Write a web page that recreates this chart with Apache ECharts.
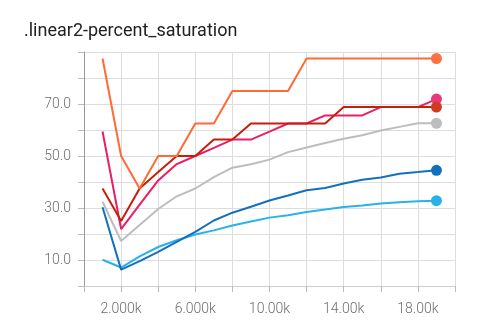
<!DOCTYPE html>
<html>
<head>
<meta charset="utf-8">
<script src="https://cdn.jsdelivr.net/npm/echarts@6/dist/echarts.min.js"></script>
<style>
html,body{margin:0;padding:0;background:#fff;}
#c{width:480px;height:323px;}
</style>
</head>
<body>
<div id="c"></div>
<script>
var titleText = '.linear2-percent_saturation';
var steps = [1000,2000,3000,4000,5000,6000,7000,8000,9000,10000,11000,12000,13000,14000,15000,16000,17000,18000,19000];
var lightBlue = [10.1,7.1,11.4,15.0,17.6,19.8,21.4,23.3,24.8,26.3,27.2,28.5,29.4,30.4,31.0,31.7,32.2,32.6,32.8];
var darkBlue  = [30.3,6.3,9.6,13.1,17.0,20.8,25.2,28.2,30.5,32.9,34.8,36.8,37.7,39.4,40.9,41.7,43.2,43.8,44.5];
var gray      = [32.4,17.3,23.5,29.6,34.5,37.5,41.9,45.5,46.8,48.6,51.5,53.3,55.0,56.6,58.0,59.8,61.2,62.6,62.6];
var pink      = [59.4,21.9,31.3,40.6,46.9,50.0,53.1,56.3,56.3,59.4,62.5,62.5,65.6,65.6,65.6,68.8,68.8,68.8,71.9];
var darkRed   = [37.5,25.0,37.5,43.8,50.0,50.0,56.3,56.3,62.5,62.5,62.5,62.5,62.5,68.8,68.8,68.8,68.8,68.8,68.8];
var orange    = [87.5,50.0,37.5,50.0,50.0,62.5,62.5,75.0,75.0,75.0,75.0,87.5,87.5,87.5,87.5,87.5,87.5,87.5,87.5];
var yLabeled = [10,30,50,70];
var xLabels = {2000:'2.000k',6000:'6.000k',10000:'10.00k',14000:'14.00k',18000:'18.00k'};

function pairs(vals){ return steps.map(function(s,i){ return [s, vals[i]]; }); }
function mk(name, vals, color, markerColor){
  var d = pairs(vals);
  return {
    name: name, type: 'line', data: d, showSymbol: false, symbol: 'circle',
    lineStyle: {color: color, width: 2}, itemStyle: {color: color},
    animation: false,
    markPoint: {
      symbol: 'circle', symbolSize: 11, animation: false,
      itemStyle: {color: markerColor || color},
      label: {show: false},
      data: [{coord: d[d.length-1]}]
    }
  };
}
var chart = echarts.init(document.getElementById('c'), null, {renderer: 'canvas'});
chart.setOption({
  animation: false,
  title: {text: titleText, left: 19, top: 17,
    textStyle: {fontFamily: 'Roboto', fontSize: 18, fontWeight: 'normal', color: '#212121'}},
  grid: {left: 84, right: 25, top: 52, bottom: 37},
  xAxis: {
    type: 'value', min: 0, max: 20000, interval: 2000,
    axisLine: {show: true, lineStyle: {color: '#cccccc', width: 1}},
    axisTick: {show: true, length: 6, lineStyle: {color: '#bbbbbb'}},
    splitLine: {show: true, lineStyle: {color: '#dddddd', width: 1}},
    axisLabel: {fontFamily: 'Roboto', fontSize: 14, fontWeight: 300, color: '#6e6e6e', margin: 16,
      formatter: function(v){ return xLabels[v] || ''; }}
  },
  yAxis: {
    type: 'value', min: 0, max: 90, interval: 10,
    axisLine: {show: true, lineStyle: {color: '#999999', width: 1}},
    axisTick: {show: true, length: 6, lineStyle: {color: '#bbbbbb'}},
    splitLine: {show: true, lineStyle: {color: '#dddddd', width: 1}},
    axisLabel: {fontFamily: 'Roboto', fontSize: 14, fontWeight: 300, color: '#6e6e6e', margin: 13,
      formatter: function(v){ return yLabeled.indexOf(v) >= 0 ? v.toFixed(1) : ''; }}
  },
  series: [
    mk('light', lightBlue, '#29b2ea'),
    mk('blue', darkBlue, '#1470bd'),
    mk('gray', gray, '#bdbdbd'),
    mk('pink', pink, '#ea1e66', '#e8387a'),
    mk('darkred', darkRed, '#c41f0a', '#d03a1e'),
    mk('orange', orange, '#ff6a35', '#ff7043')
  ]
});
</script>
</body>
</html>
